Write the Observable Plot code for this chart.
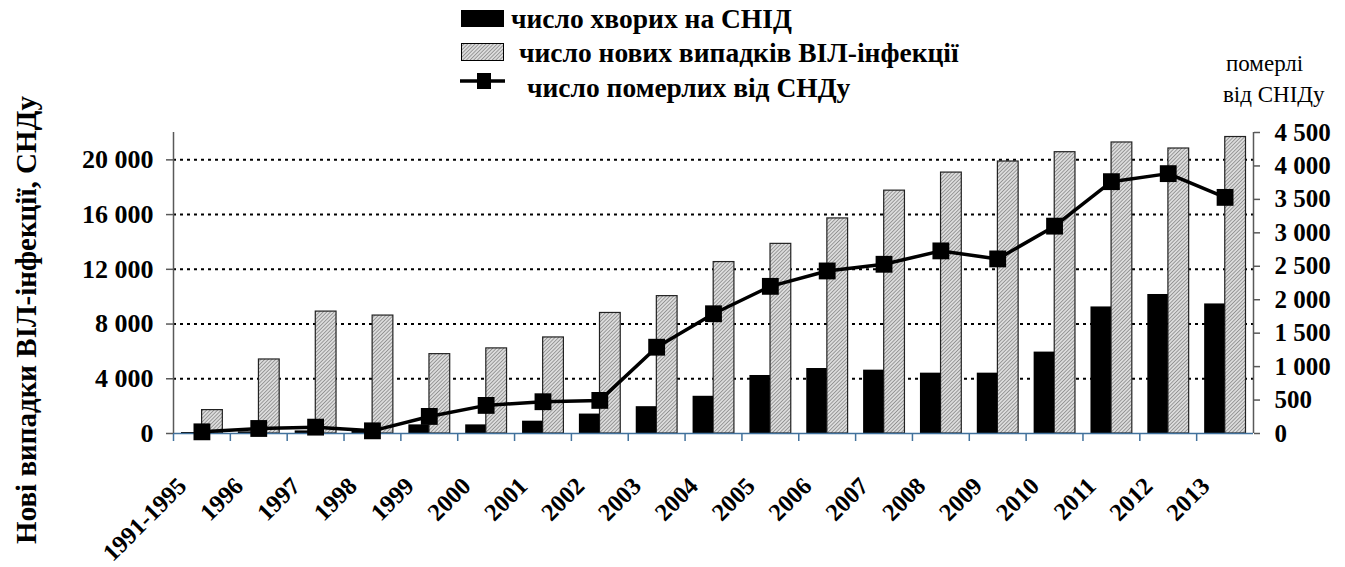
<!DOCTYPE html>
<html>
<head>
<meta charset="utf-8">
<script src="https://cdn.jsdelivr.net/npm/d3@7"></script>
<script src="https://cdn.jsdelivr.net/npm/@observablehq/plot@0.6"></script>
<style>
  html, body { margin: 0; padding: 0; background: #fff; }
  #wrap { position: relative; width: 1345px; height: 567px; font-family: 'Liberation Serif', serif; }
  #header { position: absolute; left: 0; top: 0; overflow: visible; z-index: 2; }
  #chart { position: absolute; left: 0; top: 105px; width: 1345px; height: 462px; }
  #chart svg { position: absolute; left: 0; top: 0; }
</style>
</head>
<body>
<div id="wrap">
  <svg id="header" width="1345" height="105" xmlns="http://www.w3.org/2000/svg">
    <defs>
      <pattern id="hatch" width="2.6" height="2.6" patternUnits="userSpaceOnUse" patternTransform="rotate(45)">
        <rect width="2.6" height="2.6" fill="#dcdcdc"></rect>
        <line x1="0" y1="0" x2="0" y2="2.6" stroke="#666" stroke-width="1.1"></line>
      </pattern>
    </defs>
  </svg>
  <div id="chart"></div>
</div>
<script>
// ---- data ----
const categories = ["1991-1995","1996","1997","1998","1999","2000","2001","2002","2003","2004","2005","2006","2007","2008","2009","2010","2011","2012","2013"];
const aidsCases = [70, 120, 190, 160, 630, 630, 900, 1420, 1960, 2720, 4240, 4750, 4630, 4410, 4410, 5950, 9250, 10160, 9470];
const newHivCases = [1710, 5410, 8910, 8620, 5800, 6220, 7020, 8810, 10040, 12530, 13860, 15720, 17750, 19070, 19880, 20560, 21270, 20830, 21670];
const aidsDeaths = [25, 75, 95, 40, 255, 420, 475, 495, 1290, 1790, 2200, 2430, 2530, 2730, 2610, 3100, 3765, 3885, 3530];
const leftTicks = [0, 4000, 8000, 12000, 16000, 20000];
const rightTicks = [0, 500, 1000, 1500, 2000, 2500, 3000, 3500, 4000, 4500];
const legendLabels = ["число хворих на СНІД", "число нових випадків ВІЛ-інфекції", "число померлих від СНДу"];
const leftTitle = "Нові випадки ВІЛ-інфекції, СНДу";
const rightTitle = ["померлі", "від СНІДу"];

// ---- header: legend + right axis title ----
const ff = "'Liberation Serif', serif";
const hdr = d3.select("#header");
hdr.append("rect").attr("x", 461).attr("y", 10).attr("width", 43).attr("height", 17).attr("fill", "#000");
hdr.append("rect").attr("x", 461.5).attr("y", 43.5).attr("width", 42).attr("height", 17).attr("fill", "url(#hatch)").attr("stroke", "#000").attr("stroke-width", 1);
hdr.append("line").attr("x1", 460).attr("x2", 505).attr("y1", 81).attr("y2", 81).attr("stroke", "#000").attr("stroke-width", 3.5);
hdr.append("rect").attr("x", 477).attr("y", 73).attr("width", 14).attr("height", 16).attr("fill", "#000");
const legX = [511, 519, 527], legY = [28, 62, 97];
legendLabels.forEach((t, i) => {
  hdr.append("text").attr("x", legX[i]).attr("y", legY[i]).style("font-family", ff).attr("font-weight", "bold").attr("font-size", 27.5).text(t);
});
rightTitle.forEach((t, i) => {
  hdr.append("text").attr("x", i === 0 ? 1226 : 1223).attr("y", i === 0 ? 71 : 102).style("font-family", ff).attr("font-size", 23).text(t);
});

// ---- chart ----
const W = 1345, H = 462, mt = 27, mb = 134, ml = 173, mr = 92;
const bw = (W - ml - mr) / categories.length;
const fmt = d3.formatLocale({decimal: ".", thousands: " ", grouping: [3], currency: ["", ""]}).format(",d");
const rows = categories.map((c, i) => ({cat: c, aids: aidsCases[i], hiv: newHivCases[i], deaths: aidsDeaths[i]}));
const style = {fontFamily: ff, background: "transparent", overflow: "visible", color: "#000"};
const axisGray = "#595959", axisBlue = "#41719c";
const xScale = {type: "band", domain: categories, padding: 0, round: false, axis: null};

const plot1 = Plot.plot({
  width: W, height: H, marginTop: mt, marginBottom: mb, marginLeft: ml, marginRight: mr,
  style,
  x: xScale,
  y: {domain: [0, 22000], axis: null},
  marks: [
    Plot.gridY(leftTicks.slice(1), {stroke: "#000", strokeOpacity: 1, strokeWidth: 2, strokeDasharray: "3 4"}),
    Plot.barY(rows, {x: "cat", y: "hiv", fill: "url(#hatch)", stroke: "#222", strokeWidth: 1.2, insetLeft: 28.6, insetRight: 7.5}),
    Plot.barY(rows, {x: "cat", y: "aids", fill: "#000", insetLeft: 8, insetRight: 28.4}),
    Plot.ruleY([0], {stroke: axisBlue, strokeWidth: 1.5}),
    Plot.axisX({ticks: categories, tickSize: 8, tickFormat: () => "", label: null, dx: -bw / 2, stroke: axisBlue, strokeWidth: 1.5}),
    Plot.text(categories, {x: d => d, frameAnchor: "bottom", text: d => d, rotate: -45, textAnchor: "end", lineAnchor: "bottom", dx: -14, dy: 54, fontSize: 24.5, fontWeight: "bold"}),
    Plot.ruleX([categories[0]], {x: d => d, dx: -bw / 2, y1: 0, y2: 22000, stroke: axisGray, strokeWidth: 1.5}),
    Plot.axisY({ticks: leftTicks, tickFormat: fmt, tickSize: 7, tickPadding: 13, stroke: axisGray, strokeWidth: 1.5, fontSize: 26, fontWeight: "bold", label: null}),
    Plot.text([leftTitle], {frameAnchor: "left", text: d => d, rotate: -90, textAnchor: "middle", lineAnchor: "middle", dx: -147, dy: 37, fontSize: 29, fontWeight: "bold"})
  ]
});

const plot2 = Plot.plot({
  width: W, height: H, marginTop: mt, marginBottom: mb, marginLeft: ml, marginRight: mr,
  style,
  x: xScale,
  y: {domain: [0, 4500], axis: null},
  marks: [
    Plot.line(rows, {x: "cat", y: "deaths", stroke: "#000", strokeWidth: 3.5}),
    Plot.dot(rows, {x: "cat", y: "deaths", symbol: "square", r: 9.5, fill: "#000", stroke: "none"}),
    Plot.ruleX([categories[categories.length - 1]], {x: d => d, dx: bw / 2, y1: 0, y2: 4500, stroke: axisGray, strokeWidth: 1.5}),
    Plot.axisY({anchor: "right", ticks: rightTicks, tickFormat: fmt, tickSize: 6, tickPadding: 15, stroke: axisGray, strokeWidth: 1.5, fontSize: 25, fontWeight: "bold", label: null})
  ]
});

document.getElementById("chart").append(plot1, plot2);
</script>
</body>
</html>
